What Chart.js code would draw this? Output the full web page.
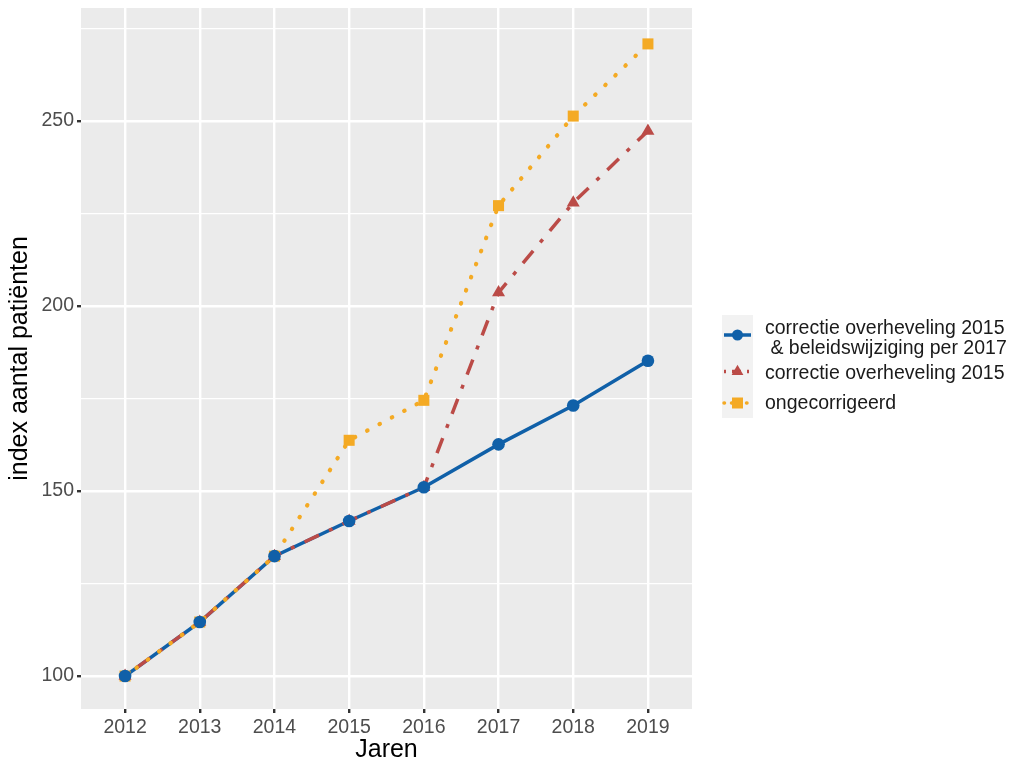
<!DOCTYPE html>
<html>
<head>
<meta charset="utf-8">
<script src="https://cdn.jsdelivr.net/npm/chart.js@4.4.1/dist/chart.umd.min.js"></script>
<style>
  html, body { margin: 0; padding: 0; background: #ffffff; }
  #wrap { position: relative; width: 1010px; height: 760px; font-family: "Liberation Sans", Arial, sans-serif; }
  canvas { position: absolute; left: 0; top: 0; }
  .lg-bg { position: absolute; background: #F2F2F2; }
  .lg-txt { position: absolute; font-size: 19.5px; line-height: 20px; color: #1a1a1a; white-space: pre; }
  svg { position: absolute; }
</style>
</head>
<body>
<div id="wrap">
  <canvas id="c" width="1010" height="760"></canvas>
</div>
<script>
// ---- data ----
const years = [2012, 2013, 2014, 2015, 2016, 2017, 2018, 2019];
const correctieBeleid = [100, 114.6, 132.4, 141.9, 151.0, 162.6, 173.1, 185.2];
const correctieOverheveling = [100, 114.6, 132.4, 141.9, 151.0, 203.6, 227.9, 247.3];
const ongecorrigeerd = [100, 114.6, 132.4, 163.7, 174.5, 227.1, 251.3, 270.8];
const yTicks = [100, 125, 150, 175, 200, 225, 250, 275];
const yLabelTicks = [100, 150, 200, 250];
const seriesNames = ["correctie overheveling 2015\n & beleidswijziging per 2017", "correctie overheveling 2015", "ongecorrigeerd"];

const BLUE = "#1060A8", RED = "#BB4B47", ORANGE = "#F4AA24";

function pts(arr) { return years.map((y, i) => ({ x: y, y: arr[i] })); }

const panelBg = {
  id: "panelBg",
  beforeDraw(chart) {
    const a = chart.chartArea, ctx = chart.ctx;
    ctx.save();
    ctx.fillStyle = "#EBEBEB";
    ctx.fillRect(a.left, a.top, a.right - a.left, a.bottom - a.top);
    ctx.restore();
  }
};

const lineDs = (label, arr, color, dash, width, cap, order) => ({
  label, data: pts(arr), borderColor: color, backgroundColor: color,
  borderWidth: width, borderDash: dash, borderCapStyle: cap,
  pointRadius: 0, pointHoverRadius: 0, tension: 0, order, showLine: true
});
const pointDs = (label, arr, color, style, radius, order) => ({
  label, data: pts(arr), borderColor: color, backgroundColor: color,
  showLine: false, pointStyle: style, pointRadius: radius, pointBorderWidth: 0,
  pointHoverRadius: radius, order
});

const FONT = "Liberation Sans, Arial, sans-serif";

new Chart(document.getElementById("c"), {
  type: "scatter",
  data: {
    datasets: [
      lineDs(seriesNames[0], correctieBeleid, BLUE, [], 3.5, "butt", 6),
      lineDs(seriesNames[1], correctieOverheveling, RED, [4, 11, 16, 11], 3.5, "butt", 5),
      lineDs(seriesNames[2], ongecorrigeerd, ORANGE, [0.5, 13.5], 4.2, "round", 4),
      pointDs(seriesNames[2], ongecorrigeerd, ORANGE, "rect", 7.8, 3),
      pointDs(seriesNames[1], correctieOverheveling, RED, "triangle", 7.5, 2),
      pointDs(seriesNames[0], correctieBeleid, BLUE, "circle", 6.3, 1)
    ]
  },
  options: {
    responsive: false,
    devicePixelRatio: 1,
    animation: false,
    layout: { padding: { top: 8, right: 318, left: 0, bottom: 0 } },
    plugins: { legend: { display: false }, tooltip: { enabled: false } },
    scales: {
      x: {
        type: "linear",
        min: 2011.41, max: 2019.59,
        afterBuildTicks: s => { s.ticks = years.map(v => ({ value: v })); },
        afterFit: s => { s.height = 51; s.paddingLeft = 0; s.paddingRight = 0; },
        border: { display: false },
        grid: { color: "#FFFFFF", lineWidth: 2.4, tickColor: "#333333", tickLength: 4, drawTicks: true },
        ticks: { color: "#4D4D4D", font: { family: FONT, size: 19.5 }, padding: 3, maxRotation: 0, callback: v => String(v) },
        title: { display: true, text: "Jaren", color: "#000000", font: { family: FONT, size: 25, lineHeight: 0.8 }, padding: { top: 0, bottom: 0 } }
      },
      y: {
        type: "linear",
        min: 91.1, max: 280.5,
        afterBuildTicks: s => { s.ticks = yTicks.map(v => ({ value: v })); },
        afterFit: s => { s.width = 81; s.paddingTop = 0; s.paddingBottom = 0; },
        border: { display: false },
        grid: {
          color: "#FFFFFF",
          lineWidth: c => (yLabelTicks.includes(c.tick && c.tick.value) ? 2.4 : 1.2),
          tickColor: c => (yLabelTicks.includes(c.tick && c.tick.value) ? "#333333" : "rgba(0,0,0,0)"),
          tickLength: 4
        },
        ticks: { color: "#4D4D4D", font: { family: FONT, size: 19.5 }, padding: 3,
                 callback: v => (yLabelTicks.includes(v) ? String(v) : "") },
        title: { display: true, text: "index aantal patiënten", color: "#000000", font: { family: FONT, size: 25 }, padding: { top: 5, bottom: 0 } }
      }
    }
  },
  plugins: [panelBg]
});

// ---- legend (HTML, ggplot-like keys) ----
const wrap = document.getElementById("wrap");
const legendRows = [
  { name: seriesNames[0], color: BLUE, dash: "", marker: "circle", top: 315, h: 40 },
  { name: seriesNames[1], color: RED, dash: "2 6 9 6", marker: "triangle", top: 355, h: 33 },
  { name: seriesNames[2], color: ORANGE, dash: "0.5 7", marker: "rect", top: 388, h: 30 }
];
const keyLeft = 722, keyW = 31, textLeft = 765;
legendRows.forEach((r, idx) => {
  const bg = document.createElement("div");
  bg.className = "lg-bg";
  bg.style.left = keyLeft + "px"; bg.style.top = r.top + "px";
  bg.style.width = keyW + "px"; bg.style.height = r.h + "px";
  wrap.appendChild(bg);
  const ns = "http://www.w3.org/2000/svg";
  const svg = document.createElementNS(ns, "svg");
  svg.setAttribute("width", keyW); svg.setAttribute("height", r.h);
  svg.style.left = keyLeft + "px"; svg.style.top = r.top + "px";
  const line = document.createElementNS(ns, "line");
  line.setAttribute("x1", 2); line.setAttribute("x2", keyW - 2);
  line.setAttribute("y1", r.h / 2); line.setAttribute("y2", r.h / 2);
  line.setAttribute("stroke", r.color); line.setAttribute("stroke-width", 3.5);
  if (r.dash) line.setAttribute("stroke-dasharray", r.dash);
  if (idx === 2) line.setAttribute("stroke-linecap", "round");
  svg.appendChild(line);
  let m;
  const mx = keyW / 2, my = r.h / 2;
  if (r.marker === "circle") {
    m = document.createElementNS(ns, "circle");
    m.setAttribute("cx", mx); m.setAttribute("cy", my); m.setAttribute("r", 5.5);
  } else if (r.marker === "triangle") {
    m = document.createElementNS(ns, "polygon");
    const R = 6.8;
    m.setAttribute("points", `${mx},${my - R} ${mx + R * 0.866},${my + R / 2} ${mx - R * 0.866},${my + R / 2}`);
  } else {
    m = document.createElementNS(ns, "rect");
    m.setAttribute("x", mx - 5.5); m.setAttribute("y", my - 5.5);
    m.setAttribute("width", 11); m.setAttribute("height", 11);
  }
  m.setAttribute("fill", r.color);
  svg.appendChild(m);
  wrap.appendChild(svg);
});
const textLines = [
  { t: "correctie overheveling 2015", cy: 327 },
  { t: " & beleidswijziging per 2017", cy: 347 },
  { t: "correctie overheveling 2015", cy: 372 },
  { t: "ongecorrigeerd", cy: 402 }
];
textLines.forEach(l => {
  const d = document.createElement("div");
  d.className = "lg-txt";
  d.textContent = l.t;
  d.style.left = textLeft + "px";
  d.style.top = (l.cy - 10) + "px";
  wrap.appendChild(d);
});
</script>
</body>
</html>
